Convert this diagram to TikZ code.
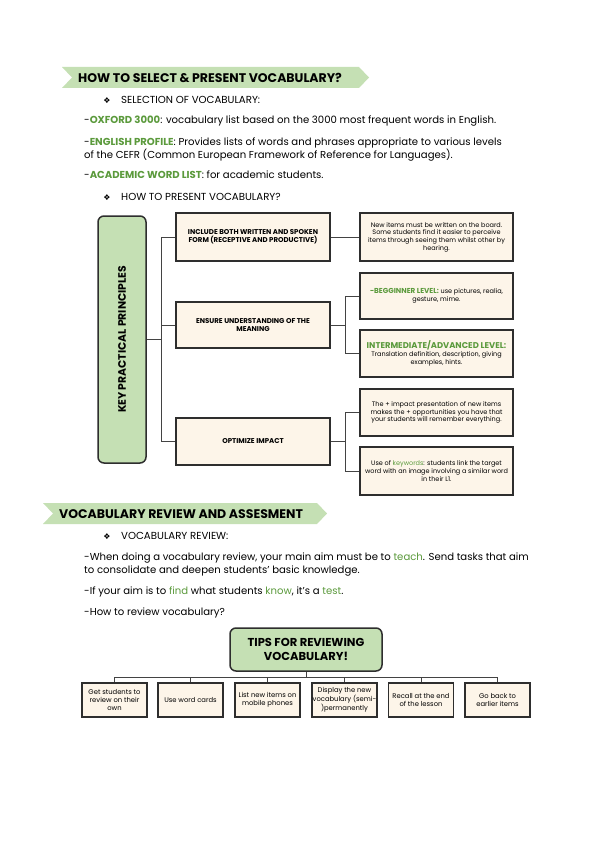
\documentclass[tikz,border=0pt]{standalone}
\usepackage{fontspec}
\setmainfont{Poppins}
\newfontfamily\symf{DejaVu Sans}
\definecolor{bgreen}{HTML}{C5E0B4}
\definecolor{tgreen}{HTML}{5B9A3C}
\definecolor{cream}{HTML}{FDF5E9}
\definecolor{edge}{HTML}{2E2E2E}
\newcommand{\gr}[1]{\textcolor{tgreen}{#1}}
\newcommand{\gb}[1]{\textcolor{tgreen}{\textbf{#1}}}
\newcommand{\fs}[1]{\fontsize{#1}{1.18\dimexpr #1pt\relax}\selectfont}
\tikzset{
  banner/.style={fill=bgreen, draw=none},
  bantext/.style={anchor=west, inner sep=0pt, font=\fs{12.5}\bfseries},
  bodyline/.style={anchor=base west, inner sep=0pt, font=\fs{10.1}},
  bulletline/.style={anchor=base west, inner sep=0pt, font=\fs{10.2}},
  dia/.style={anchor=base, inner sep=0pt, font=\symf\fontsize{8}{9}\selectfont},
  greenbox/.style={draw=edge, line width=1.5pt, fill=bgreen, rounded corners=6pt, align=center},
  midbox/.style={draw=edge, line width=1.5pt, fill=cream, minimum width=154pt, align=center, inner sep=1pt, font=\fs{7}\bfseries},
  rbox/.style={draw=edge, line width=1.5pt, fill=cream, minimum width=153pt, align=center, inner sep=1pt, font=\fs{6.5}},
  tipbox/.style={draw=edge, line width=1.5pt, fill=cream, minimum width=65pt, minimum height=34pt, align=center, inner sep=0.5pt, font=\fs{6.8}},
  conn/.style={draw=edge!90, line width=0.9pt}
}
\begin{document}
\begin{tikzpicture}[x=1pt,y=-1pt]
\useasboundingbox[fill=white] (0,0) rectangle (599,848);

% ---------- Banner 1 ----------
\fill[banner] (62,67) -- (359,67) -- (369,77.5) -- (359,88) -- (62,88) -- (72,77.5) -- cycle;
\node[bantext] (h1) at (78,78) {HOW TO SELECT \& PRESENT VOCABULARY?};

\node[dia] (d1) at (107,103) {❖};
\node[bulletline] (s1) at (121,103) {SELECTION OF VOCABULARY:};

\node[bodyline] (l1) at (84,124) {-\gb{OXFORD 3000}: vocabulary list based on the 3000 most frequent words in English.};
\node[bodyline] (l2) at (84,146) {-\gb{ENGLISH PROFILE}: Provides lists of words and phrases appropriate to various levels};
\node[bodyline] (l3) at (84,158) {of the CEFR (Common European Framework of Reference for Languages).};
\node[bodyline] (l4) at (84,178) {-\gb{ACADEMIC WORD LIST}: for academic students.};

\node[dia] (d2) at (107,200) {❖};
\node[bulletline] (s2) at (121,200) {HOW TO PRESENT VOCABULARY?};

% ---------- Key practical principles ----------
\node[greenbox, minimum width=48pt, minimum height=247pt] (kp) at (122,339.5) {};
\node[rotate=90, font=\fs{10.8}\bfseries, inner sep=0pt] (kpt) at (kp.center) {KEY PRACTICAL PRINCIPLES};

\node[midbox, minimum height=48pt] (m1) at (253,237) {INCLUDE BOTH WRITTEN AND SPOKEN\\FORM (RECEPTIVE AND PRODUCTIVE)};
\node[midbox, minimum height=46pt] (m2) at (253,325) {ENSURE UNDERSTANDING OF THE\\MEANING};
\node[midbox, minimum height=47pt] (m3) at (253,441.5) {OPTIMIZE IMPACT};

\node[rbox, minimum height=48pt] (r1) at (436.5,237) {New items must be written on the board.\\Some students find it easier to perceive\\items through seeing them whilst other by\\hearing.};
\node[rbox, minimum height=46pt] (r2) at (436.5,296) {{\fs{7.2}\gb{-BEGGINNER LEVEL:}} use pictures, realia,\\gesture, mime.};
\node[rbox, minimum height=47pt] (r3) at (436.5,353.5) {{\fs{8.4}\gb{INTERMEDIATE/ADVANCED LEVEL:}}\\Translation definition, description, giving\\examples, hints.};
\node[rbox, minimum height=47pt] (r4) at (436.5,412.5) {The + impact presentation of new items\\makes the + opportunities you have that\\your students will remember everything.};
\node[rbox, minimum height=48pt] (r5) at (436.5,471) {Use of \gr{keywords}: students link the target\\word with an image involving a similar word\\in their L1.};

\coordinate (j1) at (161,339.5);
\coordinate (j2) at (345,325);
\coordinate (j3) at (345,441.5);
\draw[conn] (kp.east) -- (j1);
\draw[conn] (m1.west) -| (j1);
\draw[conn] (m2.west) -| (j1);
\draw[conn] (m3.west) -| (j1);
\draw[conn] (m1.east) -- (r1.west);
\draw[conn] (m2.east) -- (j2);
\draw[conn] (r2.west) -| (j2);
\draw[conn] (r3.west) -| (j2);
\draw[conn] (m3.east) -- (j3);
\draw[conn] (r4.west) -| (j3);
\draw[conn] (r5.west) -| (j3);

% ---------- Banner 2 ----------
\fill[banner] (43,503) -- (317,503) -- (327,513.5) -- (317,524) -- (43,524) -- (53,513.5) -- cycle;
\node[bantext] (h2) at (59,514) {VOCABULARY REVIEW AND ASSESMENT};

\node[dia] (d3) at (107,539) {❖};
\node[bulletline] (s3) at (121,539) {VOCABULARY REVIEW:};

\node[bodyline] (v1) at (84,560) {-When doing a vocabulary review, your main aim must be to \gr{teach}. Send tasks that aim};
\node[bodyline] (v2) at (84,573) {to consolidate and deepen students' basic knowledge.};
\node[bodyline] (v3) at (84,594) {-If your aim is to \gr{find} what students \gr{know}, it's a \gr{test}.};
\node[bodyline] (v4) at (84,615) {-How to review vocabulary?};

% ---------- Tips ----------
\node[greenbox, minimum width=152pt, minimum height=43pt, font=\fs{11.5}\bfseries] (tips) at (306,649.5) {TIPS FOR REVIEWING\\VOCABULARY!};

\node[tipbox] (b1) at (114.5,700) {Get students to\\review on their\\own};
\node[tipbox] (b2) at (190.5,700) {Use word cards};
\node[tipbox] (b3) at (267.5,700) {List new items on\\mobile phones};
\node[tipbox] (b4) at (344.5,700) {Display the new\\vocabulary (semi-\\)permanently};
\node[tipbox] (b5) at (421,700) {Recall at the end\\of the lesson};
\node[tipbox] (b6) at (497.5,700) {Go back to\\earlier items};

\coordinate (j4) at (306,677);
\draw[conn] (tips.south) -- (j4);
\foreach \b in {b1,b2,b3,b4,b5,b6} { \draw[conn] (\b.north) |- (j4); }
\end{tikzpicture}
\end{document}
